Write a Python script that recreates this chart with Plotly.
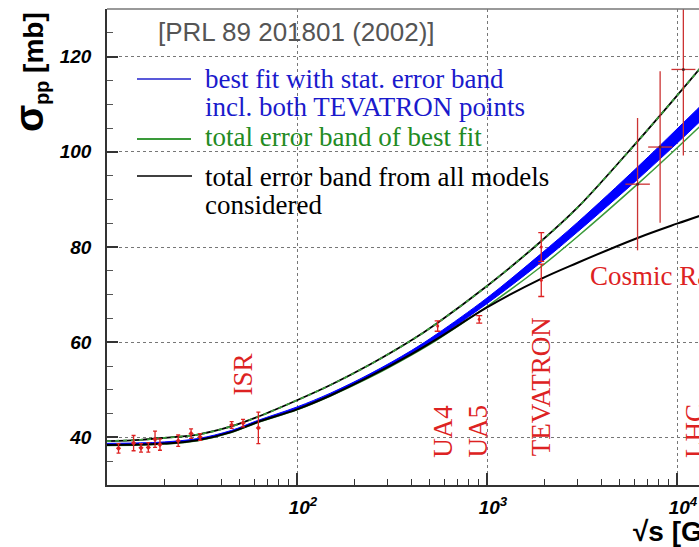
import math
import plotly.graph_objects as go

# ---- fitted curves (sqrt(s) in GeV, sigma_pp in mb) ----
sqrt_s_curve = [10, 15, 20, 30, 45, 62, 100, 150, 242, 400, 546, 1000, 1900, 3000, 6200, 10000, 14000]
upper_total = [39.2, 39.5, 39.9, 40.6, 42.3, 44.3, 47.8, 51.0, 55.3, 60.4, 64.0, 71.8, 81.0, 88.3, 102.2, 111.8, 118.7]
best_fit = [38.6, 38.7, 38.9, 39.6, 41.3, 43.4, 46.2, 49.1, 53.1, 57.9, 61.3, 68.7, 77.5, 84.2, 95.5, 103.3, 108.9]
stat_err = [0.15, 0.15, 0.15, 0.15, 0.15, 0.15, 0.2, 0.2, 0.25, 0.35, 0.45, 0.6, 0.9, 1.0, 1.3, 1.5, 1.6]
fit_total_lo = [38.3, 38.4, 38.6, 39.3, 41.0, 43.1, 45.8, 48.7, 52.6, 57.3, 60.5, 67.5, 75.7, 82.2, 93.2, 100.8, 106.3]
models_lo = [38.4, 38.5, 38.7, 39.4, 41.1, 43.2, 45.9, 48.8, 52.8, 57.5, 60.7, 67.3, 73.2, 76.7, 81.9, 84.9, 86.9]

# ---- measurements ----
isr_s = [11.5, 13.8, 15.1, 16.5, 17.9, 19.0, 23.7, 27.7, 30.9, 45.3, 52.0, 62.6]
isr_sigma = [37.7, 38.8, 37.8, 37.9, 39.6, 38.5, 39.3, 40.8, 40.1, 42.6, 43.0, 42.0]
isr_err = [1.0, 1.6, 0.9, 1.0, 1.7, 1.2, 1.2, 1.0, 0.7, 0.7, 0.8, 3.3]

collider_s = [550, 910, 1930, 1930]
collider_sigma = [63.4, 64.8, 80.0, 73.0]
collider_err = [1.1, 0.8, 3.0, 3.4]

cosmic_s = [6200, 8150, 10800]
cosmic_sigma = [93.2, 101.0, 117.3]
cosmic_err = [13.9, 15.9, 18.1]
cosmic_s_plus = [1000, 1300, 1700]
cosmic_s_minus = [850, 1100, 1450]

# ---- axes ----
x_major = [100, 1000, 10000]
x_major_text = ["10<sup>2</sup>", "10<sup>3</sup>", "10<sup>4</sup>"]
x_minor = [m * d for d in (10, 100, 1000, 10000) for m in range(2, 10)]
y_major = [40, 60, 80, 100, 120]
y_minor = [35, 45, 50, 55, 65, 70, 75, 85, 90, 95, 105, 110, 115, 125]

W, H = 699, 547
ML, MR, MT, MB = 107, 0, 9, 62
PW, PH = W - ML - MR, H - MT - MB

RED = "#dd2222"
BLUE = "#0000ff"
GREEN = "#3a9a3a"
SERIF = "Liberation Serif"
SANS = "Liberation Sans"


def px(x):
    return (x - ML) / PW


def py(y):
    return (H - MB - y) / PH


fig = go.Figure()

# statistical error band of the best fit
band_lo = [b - e for b, e in zip(best_fit, stat_err)]
band_hi = [b + e for b, e in zip(best_fit, stat_err)]
fig.add_trace(go.Scatter(x=sqrt_s_curve, y=band_lo, mode="lines",
                         line=dict(color=BLUE, width=1, shape="spline"),
                         hoverinfo="skip", showlegend=False))
fig.add_trace(go.Scatter(x=sqrt_s_curve, y=band_hi, mode="lines", fill="tonexty",
                         fillcolor=BLUE, line=dict(color=BLUE, width=1, shape="spline"),
                         hoverinfo="skip", showlegend=False))

# total error band of the best fit (lower edge) and of all models
fig.add_trace(go.Scatter(x=sqrt_s_curve, y=fit_total_lo, mode="lines",
                         line=dict(color=GREEN, width=1.5, shape="spline"), showlegend=False))
fig.add_trace(go.Scatter(x=sqrt_s_curve, y=models_lo, mode="lines",
                         line=dict(color="black", width=2, shape="spline"), showlegend=False))
fig.add_trace(go.Scatter(x=sqrt_s_curve, y=upper_total, mode="lines",
                         line=dict(color="black", width=1.8, shape="spline"), showlegend=False))
fig.add_trace(go.Scatter(x=sqrt_s_curve, y=upper_total, mode="lines",
                         line=dict(color=GREEN, width=1.8, shape="spline", dash="4px,4px"),
                         showlegend=False))

# data points
fig.add_trace(go.Scatter(x=isr_s, y=isr_sigma, mode="markers",
                         marker=dict(color=RED, size=4, symbol="diamond"),
                         error_y=dict(type="data", array=isr_err, color=RED, thickness=1.3, width=2),
                         showlegend=False))
fig.add_trace(go.Scatter(x=collider_s, y=collider_sigma, mode="markers",
                         marker=dict(color=RED, size=3),
                         error_y=dict(type="data", array=collider_err, color=RED, thickness=1.3, width=3),
                         showlegend=False))
fig.add_trace(go.Scatter(x=cosmic_s, y=cosmic_sigma, mode="markers",
                         marker=dict(color="#552222", size=3),
                         error_y=dict(type="data", array=cosmic_err, color="#cc3333", thickness=1.3, width=0),
                         error_x=dict(type="data", array=cosmic_s_plus, arrayminus=cosmic_s_minus,
                                      color="#cc3333", thickness=1.3, width=0),
                         showlegend=False))

annotations = []

# experiment labels
exp_labels = [("ISR", 52, 53.2), ("UA4", 590, 41.3), ("UA5", 900, 41.3),
              ("TEVATRON", 1940, 50.7), ("LHC", 12400, 41.3)]
for txt, xs, ys in exp_labels:
    annotations.append(dict(x=math.log10(xs), y=ys, xref="x", yref="y", text=txt,
                            textangle=-90, showarrow=False, xanchor="center", yanchor="middle",
                            font=dict(family=SERIF, size=27, color=RED)))
annotations.append(dict(x=math.log10(3420), y=74.0, xref="x", yref="y",
                        text="Cosmic Rays", showarrow=False, xanchor="left", yanchor="middle",
                        font=dict(family=SERIF, size=27, color=RED)))

# reference and legend texts
annotations.append(dict(x=px(156), y=py(32), xref="paper", yref="paper",
                        text="[PRL 89 201801 (2002)]", showarrow=False, xanchor="left",
                        yanchor="middle", font=dict(family=SANS, size=26, color="#555555")))
legend_rows = [
    ("best fit with stat. error band", 79, "#1a1acc"),
    ("incl. both TEVATRON points", 107, "#1a1acc"),
    ("total error band of best fit", 137, "#228b22"),
    ("total error band from all models", 177, "black"),
    ("considered", 205, "black"),
]
for txt, yy, col in legend_rows:
    annotations.append(dict(x=px(203), y=py(yy), xref="paper", yref="paper", text=txt,
                            showarrow=False, xanchor="left", yanchor="middle",
                            font=dict(family=SERIF, size=27, color=col)))

# axis titles
annotations.append(dict(x=px(30), y=py(72), xref="paper", yref="paper",
                        text="<b><span style='font-size:40px'>σ</span><sub>pp</sub> [mb]</b>",
                        textangle=-90, showarrow=False, xanchor="center", yanchor="middle",
                        font=dict(family=SANS, size=28, color="black")))
annotations.append(dict(x=px(631), y=py(531), xref="paper", yref="paper",
                        text="<b>√s [GeV]</b>", showarrow=False, xanchor="left",
                        yanchor="middle", font=dict(family=SANS, size=28, color="black")))

shapes = [
    dict(type="line", xref="paper", yref="paper", x0=0, x1=1, y0=1, y1=1,
         line=dict(color="#777777", width=1.5)),
    dict(type="line", xref="paper", yref="paper", x0=px(137), x1=px(191), y0=py(79), y1=py(79),
         line=dict(color="#2222cc", width=1.5)),
    dict(type="line", xref="paper", yref="paper", x0=px(137), x1=px(191), y0=py(139), y1=py(139),
         line=dict(color=GREEN, width=2)),
    dict(type="line", xref="paper", yref="paper", x0=px(137), x1=px(192), y0=py(176), y1=py(176),
         line=dict(color="black", width=1.5)),
]

tick_font = dict(family=SANS, size=19, color="black", weight="bold", style="italic")

fig.update_layout(
    width=W, height=H,
    margin=dict(l=ML, r=MR, t=MT, b=MB, pad=0),
    paper_bgcolor="white", plot_bgcolor="white",
    showlegend=False,
    annotations=annotations,
    shapes=shapes,
    xaxis=dict(type="log", range=[1, 2 + (W - 297) / 190],
               tickmode="array", tickvals=x_major, ticktext=x_major_text,
               ticks="inside", ticklen=12, tickwidth=1.5, tickcolor="#333333",
               showline=True, linecolor="#333333", linewidth=1.5,
               showgrid=True, gridcolor="#777777", griddash="dot", gridwidth=1,
               zeroline=False, ticklabelshift=6, ticklabelstandoff=4,
               tickfont=tick_font,
               minor=dict(tickmode="array", tickvals=x_minor, ticks="inside", ticklen=6,
                          tickwidth=1.2, tickcolor="#333333", showgrid=False)),
    yaxis=dict(range=[30, 130], tickmode="array", tickvals=y_major,
               ticks="inside", ticklen=11, tickwidth=1.5, tickcolor="#333333",
               showline=True, linecolor="#333333", linewidth=1.5,
               showgrid=True, gridcolor="#777777", griddash="dot", gridwidth=1,
               zeroline=False, ticklabelstandoff=10,
               tickfont=tick_font,
               minor=dict(tickmode="array", tickvals=y_minor, ticks="inside", ticklen=6,
                          tickwidth=1.2, tickcolor="#555555", showgrid=False)),
)

fig.write_html("out.html")
